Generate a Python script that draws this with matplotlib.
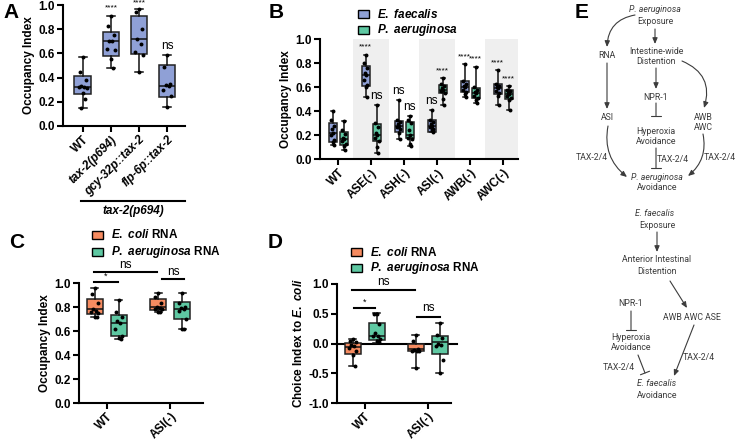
import matplotlib
matplotlib.use('Agg')
import matplotlib.pyplot as plt
import numpy as np
from matplotlib.patches import Rectangle

plt.rcParams['font.family'] = ['Liberation Sans', 'DejaVu Sans']
plt.rcParams['font.weight'] = 'bold'
plt.rcParams['mathtext.fontset'] = 'custom'
plt.rcParams['mathtext.it'] = 'Liberation Sans:italic:bold'
plt.rcParams['mathtext.rm'] = 'Liberation Sans:bold'

BLUE = '#8fa0d6'
GREEN = '#5ec8a2'
ORANGE = '#f68b60'
W, H = 737, 440
FS = 8.5
XFS = 8

# ---- panel A data ----
a_labels = ['WT', 'tax-2(p694)', 'gcy-32p::tax-2', 'flp-6p::tax-2']
a_lo = [0.15, 0.48, 0.45, 0.155]
a_q1 = [0.265, 0.58, 0.595, 0.24]
a_med = [0.325, 0.70, 0.72, 0.33]
a_q3 = [0.41, 0.78, 0.91, 0.50]
a_hi = [0.57, 0.91, 0.97, 0.585]
a_pts = [[0.57, 0.45, 0.38, 0.33, 0.325, 0.32, 0.31, 0.27, 0.22, 0.15],
         [0.91, 0.83, 0.75, 0.70, 0.70, 0.64, 0.63, 0.55, 0.48],
         [0.97, 0.94, 0.80, 0.72, 0.68, 0.61, 0.59, 0.45],
         [0.585, 0.49, 0.35, 0.34, 0.33, 0.30, 0.25, 0.155]]
a_sig = ['', '****', '****', 'ns']

# ---- panel B data ----
b_labels = ['WT', 'ASE(-)', 'ASH(-)', 'ASI(-)', 'AWB(-)', 'AWC(-)']
bf_lo = [0.12, 0.52, 0.17, 0.23, 0.52, 0.45]
bf_q1 = [0.147, 0.61, 0.23, 0.23, 0.56, 0.54]
bf_med = [0.22, 0.70, 0.28, 0.28, 0.60, 0.59]
bf_q3 = [0.30, 0.78, 0.32, 0.33, 0.65, 0.63]
bf_hi = [0.40, 0.87, 0.49, 0.41, 0.79, 0.74]
bf_pts = [[0.40, 0.33, 0.28, 0.25, 0.22, 0.20, 0.16, 0.14, 0.12],
          [0.87, 0.80, 0.76, 0.72, 0.70, 0.66, 0.62, 0.60, 0.52],
          [0.49, 0.33, 0.31, 0.29, 0.28, 0.27, 0.25, 0.22, 0.17],
          [0.41, 0.33, 0.31, 0.29, 0.28, 0.27, 0.25, 0.24, 0.23],
          [0.79, 0.65, 0.63, 0.61, 0.60, 0.58, 0.56, 0.54, 0.52],
          [0.74, 0.63, 0.61, 0.60, 0.59, 0.57, 0.55, 0.53, 0.45]]
bf_sig = ['', '****', 'ns', 'ns', '****', '****']
bp_lo = [0.08, 0.05, 0.11, 0.45, 0.47, 0.41]
bp_q1 = [0.12, 0.15, 0.175, 0.55, 0.51, 0.50]
bp_med = [0.17, 0.20, 0.20, 0.58, 0.55, 0.54]
bp_q3 = [0.23, 0.29, 0.31, 0.62, 0.59, 0.58]
bp_hi = [0.32, 0.45, 0.36, 0.675, 0.77, 0.61]
bp_pts = [[0.32, 0.24, 0.21, 0.18, 0.17, 0.15, 0.13, 0.11, 0.08],
          [0.45, 0.30, 0.27, 0.22, 0.20, 0.18, 0.15, 0.10, 0.05],
          [0.36, 0.33, 0.30, 0.24, 0.20, 0.18, 0.17, 0.13, 0.11],
          [0.675, 0.63, 0.61, 0.59, 0.58, 0.57, 0.55, 0.50, 0.45],
          [0.77, 0.60, 0.58, 0.56, 0.55, 0.53, 0.51, 0.49, 0.47],
          [0.61, 0.58, 0.57, 0.55, 0.54, 0.53, 0.51, 0.49, 0.41]]
bp_sig = ['', 'ns', 'ns', '****', '****', '****']

# ---- panel C data ----
cd_labels = ['WT', 'ASI(-)']
ce_lo = [0.715, 0.755]
ce_q1 = [0.74, 0.775]
ce_med = [0.78, 0.80]
ce_q3 = [0.865, 0.865]
ce_hi = [0.96, 0.92]
ce_pts = [[0.96, 0.91, 0.83, 0.78, 0.77, 0.76, 0.75, 0.72, 0.715],
          [0.92, 0.88, 0.83, 0.80, 0.79, 0.78, 0.78, 0.76, 0.755]]
cp_lo = [0.535, 0.62]
cp_q1 = [0.56, 0.70]
cp_med = [0.665, 0.78]
cp_q3 = [0.735, 0.84]
cp_hi = [0.855, 0.92]
cp_pts = [[0.855, 0.76, 0.72, 0.68, 0.67, 0.62, 0.56, 0.54, 0.535],
          [0.92, 0.83, 0.80, 0.79, 0.78, 0.77, 0.70, 0.62, 0.62]]

# ---- panel D data ----
de_lo = [-0.38, -0.42]
de_q1 = [-0.17, -0.13]
de_med = [-0.06, -0.10]
de_q3 = [0.01, 0.0]
de_hi = [0.08, 0.15]
de_pts = [[0.07, 0.05, 0.02, -0.03, -0.05, -0.07, -0.12, -0.20, -0.38],
          [0.14, 0.05, -0.10, -0.11, -0.12, -0.13, -0.13, -0.42]]
dp_lo = [0.01, -0.49]
dp_q1 = [0.06, -0.17]
dp_med = [0.13, 0.02]
dp_q3 = [0.34, 0.13]
dp_hi = [0.52, 0.35]
dp_pts = [[0.50, 0.50, 0.32, 0.17, 0.13, 0.12, 0.08, 0.05, 0.03],
          [0.34, 0.15, 0.10, 0.0, -0.03, -0.05, -0.28, -0.49]]

JIT = np.array([0, -0.35, 0.35, -0.18, 0.18, -0.45, 0.45, 0.0, 0.25, -0.25, 0.1])


def add_ax(fig, l, t, r, b):
    return fig.add_axes([l / W, 1 - b / H, (r - l) / W, (b - t) / H])


def style(ax):
    for s in ['top', 'right']:
        ax.spines[s].set_visible(False)
    for s in ['left', 'bottom']:
        ax.spines[s].set_linewidth(1.5)
    ax.tick_params(width=1.5, length=4, labelsize=FS, pad=2)
    ax.tick_params(axis='x', pad=1.5)
    for lab in ax.get_yticklabels():
        lab.set_fontweight('bold')


def boxes(ax, pos, lo, q1, med, q3, hi, pts, color, width):
    stats = [dict(med=m, q1=a, q3=b, whislo=l, whishi=h, fliers=[])
             for l, a, m, b, h in zip(lo, q1, med, q3, hi)]
    lp = dict(color='#111111', lw=1.1)
    ax.bxp(stats, positions=pos, widths=width, patch_artist=True, showfliers=False,
           boxprops=dict(facecolor=color, edgecolor='#222222', lw=1.1),
           medianprops=lp, whiskerprops=lp, capprops=lp,
           capwidths=width * 0.45, manage_ticks=False)
    for p, vals in zip(pos, pts):
        xs = p + JIT[:len(vals)] * width * 0.5
        ax.scatter(xs, vals, s=8, c='black', zorder=3, lw=0, clip_on=False)


def sig_text(ax, pos, hi, sig):
    for p, h, s in zip(pos, hi, sig):
        if s == 'ns':
            ax.text(p, h + 0.03, s, ha='center', va='bottom', fontsize=8.5, fontweight='normal')
        elif s:
            ax.text(p, min(h + 0.035, 0.985), s, ha='center', va='bottom', fontsize=6,
                    fontweight='normal', clip_on=False)


def rot_labels(ax, labels, italic_from=None):
    ax.set_xticklabels(labels, rotation=45, ha='right', rotation_mode='anchor',
                       fontsize=XFS, fontweight='bold')
    if italic_from is not None:
        for i, lab in enumerate(ax.get_xticklabels()):
            if i >= italic_from:
                lab.set_fontstyle('italic')


def bracket(ax, x1, x2, y, txt, fs=8.5, dy=0.01):
    ax.plot([x1, x2], [y, y], color='black', lw=1.5, clip_on=False)
    ax.text((x1 + x2) / 2, y + dy, txt, ha='center', va='bottom', fontsize=fs, fontweight='normal')


fig = plt.figure(figsize=(W / 100, H / 100), dpi=100)

# panel A
axA = add_ax(fig, 63, 5, 185, 126)
xa = np.arange(len(a_labels))
boxes(axA, xa, a_lo, a_q1, a_med, a_q3, a_hi, a_pts, BLUE, 0.6)
sig_text(axA, xa, a_hi, a_sig)
axA.set_xlim(-0.71, 3.64)
axA.set_ylim(0, 1.0)
axA.set_yticks(np.arange(0, 1.01, 0.2))
axA.set_xticks(xa)
rot_labels(axA, a_labels, italic_from=1)
axA.set_ylabel('Occupancy Index', fontsize=FS, fontweight='bold', labelpad=2)
style(axA)

# panel B
axB = add_ax(fig, 320, 39.3, 518, 159.3)
xb = np.arange(len(b_labels))
for i in [1, 3, 5]:
    axB.axvspan(i - 0.55, i + 0.55, color='#efefef', lw=0, zorder=0)
boxes(axB, xb - 0.17, bf_lo, bf_q1, bf_med, bf_q3, bf_hi, bf_pts, BLUE, 0.24)
boxes(axB, xb + 0.17, bp_lo, bp_q1, bp_med, bp_q3, bp_hi, bp_pts, GREEN, 0.24)
sig_text(axB, xb - 0.17, bf_hi, bf_sig)
sig_text(axB, xb + 0.17, bp_hi, bp_sig)
axB.set_xlim(-0.55, 5.45)
axB.set_ylim(0, 1.0)
axB.set_yticks(np.arange(0, 1.01, 0.2))
axB.set_xticks(xb)
rot_labels(axB, b_labels)
axB.set_ylabel('Occupancy Index', fontsize=FS, fontweight='bold', labelpad=2)
style(axB)

# panel C
axC = add_ax(fig, 79, 283, 203, 403)
xc = np.arange(len(cd_labels))
boxes(axC, xc - 0.19, ce_lo, ce_q1, ce_med, ce_q3, ce_hi, ce_pts, ORANGE, 0.25)
boxes(axC, xc + 0.19, cp_lo, cp_q1, cp_med, cp_q3, cp_hi, cp_pts, GREEN, 0.25)
bracket(axC, -0.2, 0.8, 1.09, 'ns')
bracket(axC, -0.2, 0.17, 1.01, '*', fs=6.5)
bracket(axC, 0.87, 1.22, 1.03, 'ns')
axC.set_xlim(-0.44, 1.52)
axC.set_ylim(0, 1.0)
axC.set_yticks(np.arange(0, 1.01, 0.2))
axC.set_xticks(xc)
rot_labels(axC, cd_labels)
axC.set_ylabel('Occupancy Index', fontsize=FS, fontweight='bold', labelpad=2)
style(axC)

# panel D
axD = add_ax(fig, 337, 284, 451, 403)
xd = np.arange(len(cd_labels))
axD.axhline(0, color='black', lw=1.5, xmax=1.05, clip_on=False, zorder=1)
boxes(axD, xd - 0.19, de_lo, de_q1, de_med, de_q3, de_hi, de_pts, ORANGE, 0.25)
boxes(axD, xd + 0.19, dp_lo, dp_q1, dp_med, dp_q3, dp_hi, dp_pts, GREEN, 0.25)
bracket(axD, -0.2, 0.8, 0.90, 'ns', dy=0.04)
bracket(axD, -0.17, 0.16, 0.59, '*', fs=6.5, dy=0.02)
bracket(axD, 0.83, 1.19, 0.45, 'ns', dy=0.04)
axD.set_xlim(-0.44, 1.37)
axD.set_ylim(-1.0, 1.0)
axD.set_yticks([-1.0, -0.5, 0.0, 0.5, 1.0])
axD.set_yticklabels(['-1.0', '-0.5', '0.0', '0.5', '1.0'])
axD.set_xticks(xd)
rot_labels(axD, cd_labels)
axD.set_ylabel(r'Choice Index to $E.\ coli$', fontsize=FS, fontweight='bold', labelpad=2)
style(axD)

# overlay for letters, legends and panel E
ov = fig.add_axes([0, 0, 1, 1])
ov.set_xlim(0, W)
ov.set_ylim(H, 0)
ov.axis('off')
ov.patch.set_alpha(0)

for lt, x, y in [('A', 11, 12), ('B', 276, 12), ('C', 17, 242), ('D', 275, 242), ('E', 582, 12)]:
    ov.text(x, y, lt, fontsize=15, fontweight='black', ha='center', va='center')

ov.plot([81, 185], [201, 201], color='black', lw=1.5)
ov.text(133, 211, 'tax-2(p694)', fontsize=FS, style='italic', fontweight='bold',
        ha='center', va='center')


def legend_item(x, y, color, label):
    ov.add_patch(Rectangle((x, y - 4), 11, 8, facecolor=color, edgecolor='black', lw=1))
    ov.text(x + 19, y, label, fontsize=FS, va='center', ha='left')


legend_item(358, 14, BLUE, r'$E.\ faecalis$')
legend_item(358, 30, GREEN, r'$P.\ aeruginosa$')
legend_item(92, 235, ORANGE, r'$E.\ coli$ RNA')
legend_item(92, 252, GREEN, r'$P.\ aeruginosa$ RNA')
legend_item(351, 252, ORANGE, r'$E.\ coli$ RNA')
legend_item(351, 268, GREEN, r'$P.\ aeruginosa$ RNA')

# panel E diagram
EC = '#3c3c3c'
ekw = dict(fontsize=6.3, ha='center', va='center', color=EC, fontweight='normal',
           family=['Roboto', 'DejaVu Sans'])
e_text = [('P. aeruginosa', 655, 9, True), ('Exposure', 655, 21, False),
          ('Intestine-wide', 656, 52, False), ('Distention', 656, 62, False),
          ('RNA', 607, 56, False), ('ASI', 608, 118, False), ('NPR-1', 656, 97, False),
          ('Hyperoxia', 656, 131, False), ('Avoidance', 656, 142, False),
          ('AWB', 703, 117, False), ('AWC', 703, 128, False),
          ('TAX-2/4', 592, 158, False), ('TAX-2/4', 673, 159, False), ('TAX-2/4', 720, 158, False),
          ('P. aeruginosa', 657, 177, True), ('Avoidance', 657, 188, False),
          ('E. faecalis', 655, 213, True), ('Exposure', 657, 225, False),
          ('Anterior Intestinal', 657, 260, False), ('Distention', 657, 271, False),
          ('NPR-1', 631, 304, False), ('Hyperoxia', 631, 338, False), ('Avoidance', 631, 348, False),
          ('AWB AWC ASE', 692, 318, False), ('TAX-2/4', 619, 368, False), ('TAX-2/4', 699, 357, False),
          ('E. faecalis', 657, 383, True), ('Avoidance', 657, 395, False)]
for t, x, y, it in e_text:
    ov.text(x, y, t, style='italic' if it else 'normal', **ekw)


def arrow(x1, y1, x2, y2, rad=0.0):
    ov.annotate('', xy=(x2, y2), xytext=(x1, y1),
                arrowprops=dict(arrowstyle='-|>,head_length=0.35,head_width=0.15', color=EC, lw=0.8,
                                shrinkA=0, shrinkB=0, connectionstyle='arc3,rad=%s' % rad))


def inhibit(x1, y1, x2, y2):
    ov.annotate('', xy=(x2, y2), xytext=(x1, y1),
                arrowprops=dict(arrowstyle='-[,widthB=0.35,lengthB=0', color=EC, lw=0.8,
                                shrinkA=0, shrinkB=0))


arrow(655, 29, 655, 44)
arrow(635, 15, 607, 47, rad=0.4)
arrow(607, 63, 607, 109)
arrow(608, 126, 627, 177, rad=0.3)
arrow(656, 68, 656, 89)
inhibit(656, 103, 656, 116)
inhibit(656, 148, 656, 168)
arrow(682, 61, 704, 108, rad=-0.45)
arrow(703, 134, 688, 176, rad=-0.3)
arrow(657, 232, 657, 252)
inhibit(631, 311, 631, 330)
inhibit(638, 355, 645, 373)
arrow(670, 281, 687, 308)
arrow(694, 325, 674, 376)

fig.savefig('out.png', dpi=100)
